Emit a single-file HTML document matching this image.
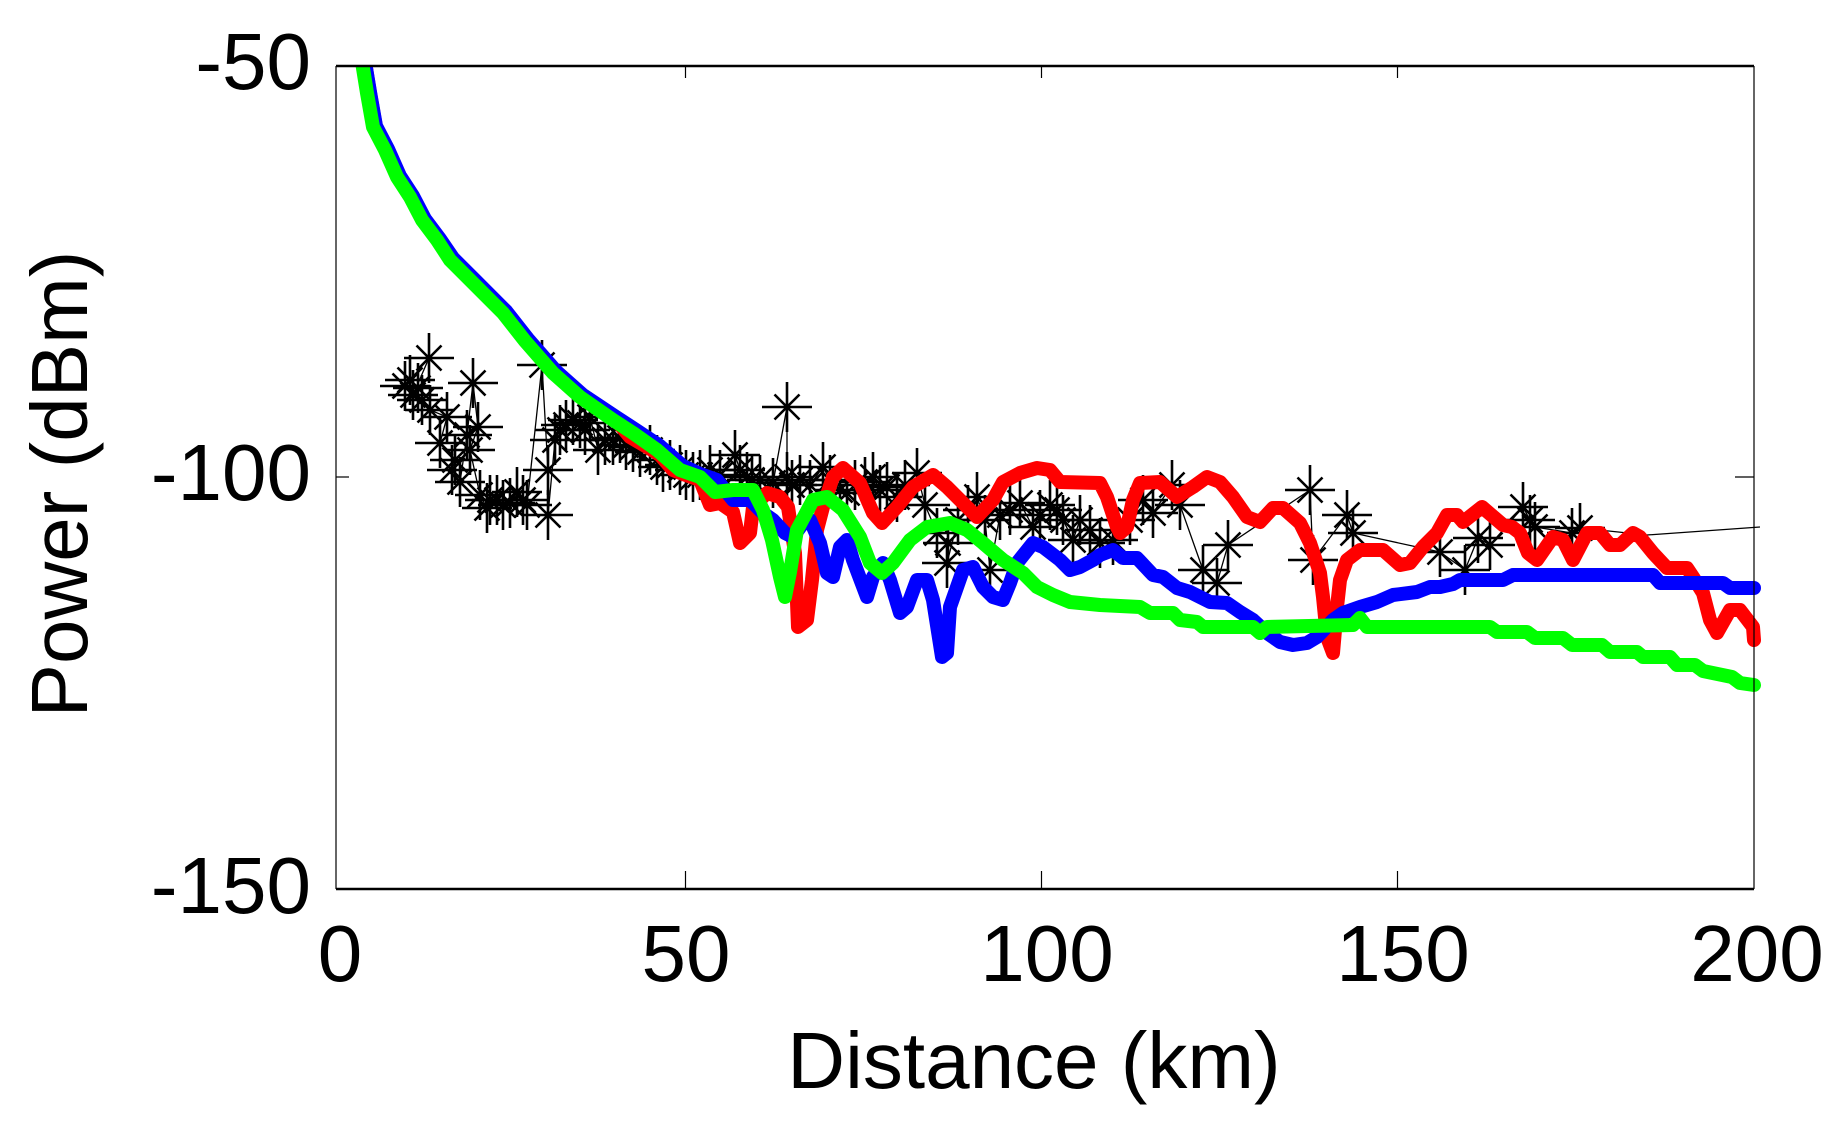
<!DOCTYPE html>
<html>
<head>
<meta charset="utf-8">
<style>
  html, body { margin: 0; padding: 0; background: #fff; }
  body { width: 1844px; height: 1127px; overflow: hidden; }
  svg { display: block; }
  text { font-family: "Liberation Sans", Arial, sans-serif; fill: #000; }
</style>
</head>
<body>
<svg width="1844" height="1127" viewBox="0 0 1844 1127" xmlns="http://www.w3.org/2000/svg">
  <defs>
    <path id="s" d="M-25 0h50M0-25v50M-12.5-12.5l25 25M-12.5 12.5l25-25" fill="none" stroke="#000" stroke-width="2.6"/>
    <clipPath id="pc"><rect x="300" y="66" width="1500" height="1000"/></clipPath>
  </defs>
  <rect x="0" y="0" width="1844" height="1127" fill="#fff"/>

  <!-- black star series: connecting line -->
  <polyline fill="none" stroke="#000" stroke-width="1.3" points="405,386 418,388 410,380 429,358 413,395 422,400 430,410 447,417 440,443 455,460 452,470 460,482 467,435 473,383 478,427 470,450 480,495 487,508 497,500 490,500 503,505 510,503 517,492 523,500 527,505 542,365 548,470 548,515 555,440 560,430 566,425 573,420 580,423 585,430 590,417 598,450 605,440 613,440 620,438 626,445 633,447 640,452 650,450 657,460 663,467 670,465 680,470 686,475 693,477 700,475 710,470 720,475 735,455 740,470 747,477 752,480 760,480 773,483 787,407 787,477 792,485 800,480 810,485 823,467 830,480 840,490 847,493 855,485 865,482 873,477 880,490 887,487 897,497 905,485 917,473 925,505 937,533 948,543 947,563 958,520 968,510 977,497 985,520 990,570 1000,515 1010,510 1020,503 1033,527 1040,515 1050,505 1057,510 1063,520 1073,540 1080,520 1090,530 1100,543 1113,540 1130,520 1143,500 1153,513 1172,485 1180,505 1203,570 1217,583 1228,545 1310,490 1313,560 1347,515 1353,533 1440,552 1465,570 1478,538 1490,545 1523,507 1530,520 1535,527 1572,533 1580,528 1647,535 1760,527"/>

  <!-- black star markers -->
  <g>
    <use href="#s" x="405" y="386"/><use href="#s" x="418" y="388"/><use href="#s" x="410" y="380"/><use href="#s" x="429" y="358"/>
    <use href="#s" x="413" y="395"/><use href="#s" x="422" y="400"/><use href="#s" x="430" y="410"/><use href="#s" x="447" y="417"/>
    <use href="#s" x="440" y="443"/><use href="#s" x="455" y="460"/><use href="#s" x="452" y="470"/><use href="#s" x="460" y="482"/>
    <use href="#s" x="467" y="435"/><use href="#s" x="473" y="383"/><use href="#s" x="478" y="427"/><use href="#s" x="470" y="450"/>
    <use href="#s" x="480" y="495"/><use href="#s" x="487" y="508"/><use href="#s" x="497" y="500"/><use href="#s" x="490" y="500"/>
    <use href="#s" x="503" y="505"/><use href="#s" x="510" y="503"/><use href="#s" x="517" y="492"/><use href="#s" x="523" y="500"/>
    <use href="#s" x="527" y="505"/><use href="#s" x="542" y="365"/><use href="#s" x="548" y="470"/><use href="#s" x="548" y="515"/>
    <use href="#s" x="555" y="440"/><use href="#s" x="560" y="430"/><use href="#s" x="566" y="425"/><use href="#s" x="573" y="420"/>
    <use href="#s" x="580" y="423"/><use href="#s" x="585" y="430"/><use href="#s" x="590" y="417"/><use href="#s" x="598" y="450"/>
    <use href="#s" x="605" y="440"/><use href="#s" x="613" y="440"/><use href="#s" x="620" y="438"/><use href="#s" x="626" y="445"/>
    <use href="#s" x="633" y="447"/><use href="#s" x="640" y="452"/><use href="#s" x="650" y="450"/><use href="#s" x="657" y="460"/>
    <use href="#s" x="663" y="467"/><use href="#s" x="670" y="465"/><use href="#s" x="680" y="470"/><use href="#s" x="686" y="475"/>
    <use href="#s" x="693" y="477"/><use href="#s" x="700" y="475"/><use href="#s" x="710" y="470"/><use href="#s" x="720" y="475"/>
    <use href="#s" x="735" y="455"/><use href="#s" x="740" y="470"/><use href="#s" x="747" y="477"/><use href="#s" x="752" y="480"/>
    <use href="#s" x="760" y="480"/><use href="#s" x="773" y="483"/><use href="#s" x="787" y="407"/><use href="#s" x="787" y="477"/>
    <use href="#s" x="792" y="485"/><use href="#s" x="800" y="480"/><use href="#s" x="810" y="485"/><use href="#s" x="823" y="467"/>
    <use href="#s" x="830" y="480"/><use href="#s" x="840" y="490"/><use href="#s" x="847" y="493"/><use href="#s" x="855" y="485"/>
    <use href="#s" x="865" y="482"/><use href="#s" x="873" y="477"/><use href="#s" x="880" y="490"/><use href="#s" x="887" y="487"/>
    <use href="#s" x="897" y="497"/><use href="#s" x="905" y="485"/><use href="#s" x="917" y="473"/><use href="#s" x="925" y="505"/>
    <use href="#s" x="937" y="533"/><use href="#s" x="948" y="543"/><use href="#s" x="947" y="563"/><use href="#s" x="958" y="520"/>
    <use href="#s" x="968" y="510"/><use href="#s" x="977" y="497"/><use href="#s" x="985" y="520"/><use href="#s" x="990" y="570"/>
    <use href="#s" x="1000" y="515"/><use href="#s" x="1010" y="510"/><use href="#s" x="1020" y="503"/><use href="#s" x="1033" y="527"/>
    <use href="#s" x="1040" y="515"/><use href="#s" x="1050" y="505"/><use href="#s" x="1057" y="510"/><use href="#s" x="1063" y="520"/>
    <use href="#s" x="1073" y="540"/><use href="#s" x="1080" y="520"/><use href="#s" x="1090" y="530"/><use href="#s" x="1100" y="543"/>
    <use href="#s" x="1113" y="540"/><use href="#s" x="1130" y="520"/><use href="#s" x="1143" y="500"/><use href="#s" x="1153" y="513"/>
    <use href="#s" x="1172" y="485"/><use href="#s" x="1180" y="505"/><use href="#s" x="1203" y="570"/><use href="#s" x="1217" y="583"/>
    <use href="#s" x="1228" y="545"/><use href="#s" x="1310" y="490"/><use href="#s" x="1313" y="560"/><use href="#s" x="1347" y="515"/>
    <use href="#s" x="1353" y="533"/><use href="#s" x="1440" y="552"/><use href="#s" x="1465" y="570"/><use href="#s" x="1478" y="538"/>
    <use href="#s" x="1490" y="545"/><use href="#s" x="1523" y="507"/><use href="#s" x="1530" y="520"/><use href="#s" x="1535" y="527"/>
    <use href="#s" x="1572" y="533"/><use href="#s" x="1580" y="528"/>
  </g>

  <g clip-path="url(#pc)">
  <!-- red series -->
  <polyline fill="none" stroke="#ff0000" stroke-width="14" stroke-linejoin="round" stroke-linecap="round" points="365,62 370,93 376,127 388,150 400,177 413,197 425,220 440,240 453,260 473,280 506,313 528,341 556,373 583,397 616,420 630,437 647,447 660,455 673,470 683,474 700,480 710,505 720,503 733,512 740,543 750,533 753,507 767,493 780,497 788,507 795,553 798,627 807,620 812,580 817,530 823,507 833,477 843,468 860,483 873,513 882,523 897,507 913,487 933,475 947,487 963,503 977,517 993,500 1003,482 1020,473 1037,468 1050,470 1060,482 1100,483 1107,497 1117,527 1120,533 1127,527 1133,500 1140,483 1160,482 1177,497 1193,487 1207,477 1220,482 1233,497 1247,517 1260,522 1273,508 1283,508 1300,523 1310,543 1320,573 1323,597 1327,637 1333,653 1337,607 1340,580 1347,560 1360,550 1383,550 1400,565 1410,563 1423,547 1437,533 1447,515 1457,515 1463,522 1482,507 1503,525 1512,527 1520,533 1528,553 1537,560 1553,537 1563,540 1573,560 1587,533 1600,533 1610,545 1620,545 1633,533 1640,537 1653,553 1667,568 1687,568 1693,577 1703,593 1710,620 1717,633 1730,610 1740,610 1753,627 1754,640"/>

  <!-- blue series -->
  <polyline fill="none" stroke="#0000ff" stroke-width="14" stroke-linejoin="round" stroke-linecap="round" points="365,62 370,92 376,126 388,149 400,176 413,196 425,219 440,239 453,258 473,278 506,311 528,339 556,371 583,395 616,417 636,430 660,446 683,466 700,474 717,480 733,500 750,500 763,513 773,520 785,533 793,537 803,523 810,520 820,543 827,573 833,577 840,547 847,540 853,560 867,597 873,577 883,563 890,580 900,613 907,607 917,580 927,580 933,600 942,657 947,653 950,607 963,570 973,567 983,587 993,597 1003,600 1010,583 1017,563 1033,543 1043,547 1060,560 1070,570 1080,567 1093,560 1100,555 1113,550 1123,558 1137,558 1153,575 1163,577 1177,588 1190,592 1200,597 1210,602 1227,603 1240,612 1253,620 1267,633 1280,642 1293,645 1307,643 1317,637 1333,620 1343,613 1360,607 1377,602 1393,595 1417,592 1430,587 1440,587 1453,584 1460,580 1503,580 1513,575 1653,575 1660,583 1723,583 1730,588 1754,588"/>

  <!-- green series -->
  <polyline fill="none" stroke="#00ff00" stroke-width="14" stroke-linejoin="round" stroke-linecap="round" points="362,62 367,93 373,127 385,150 397,177 410,197 422,220 437,240 450,260 470,280 503,313 525,341 553,373 580,397 613,420 633,433 657,450 680,470 700,477 715,492 733,490 753,490 763,510 772,540 780,577 785,597 790,572 797,530 813,500 827,497 843,510 860,537 870,563 882,573 893,563 910,540 927,527 950,523 967,530 983,543 1003,560 1023,573 1037,587 1053,595 1070,602 1100,605 1140,607 1150,613 1173,613 1180,620 1197,622 1203,627 1253,627 1260,633 1267,627 1353,625 1360,618 1367,627 1490,627 1497,632 1527,632 1535,638 1563,638 1572,645 1602,645 1610,652 1637,652 1643,657 1670,657 1677,665 1695,665 1703,671 1732,677 1740,683 1754,685"/>
  </g>

  <!-- axes -->
  <line x1="336" y1="66" x2="1754" y2="66" stroke="#000" stroke-width="2.5"/>
  <line x1="336" y1="889" x2="1754" y2="889" stroke="#000" stroke-width="2.5"/>
  <line x1="336" y1="66" x2="336" y2="889" stroke="#000" stroke-width="1.2"/>
  <line x1="1754" y1="66" x2="1754" y2="889" stroke="#000" stroke-width="1.2"/>

  <!-- ticks -->
  <g stroke="#000" stroke-width="1.2">
    <line x1="685.5" y1="66" x2="685.5" y2="78"/>
    <line x1="1041.5" y1="66" x2="1041.5" y2="78"/>
    <line x1="1397.5" y1="66" x2="1397.5" y2="78"/>
    <line x1="685.5" y1="889" x2="685.5" y2="871"/>
    <line x1="1041.5" y1="889" x2="1041.5" y2="871"/>
    <line x1="1397.5" y1="889" x2="1397.5" y2="871"/>
    <line x1="336" y1="477" x2="349" y2="477"/>
    <line x1="1754" y1="477" x2="1735" y2="477"/>
  </g>

  <!-- tick labels -->
  <g font-size="80">
    <text x="311" y="89" text-anchor="end">-50</text>
    <text x="311" y="500" text-anchor="end">-100</text>
    <text x="311" y="913" text-anchor="end">-150</text>
    <text x="340" y="981" text-anchor="middle">0</text>
    <text x="686" y="981" text-anchor="middle">50</text>
    <text x="1047" y="981" text-anchor="middle">100</text>
    <text x="1403" y="981" text-anchor="middle">150</text>
    <text x="1757" y="981" text-anchor="middle">200</text>
  </g>

  <!-- axis labels -->
  <text x="1034" y="1088" font-size="80" text-anchor="middle">Distance (km)</text>
  <text transform="translate(87,484) rotate(-90)" font-size="80" text-anchor="middle">Power (dBm)</text>
</svg>
</body>
</html>
